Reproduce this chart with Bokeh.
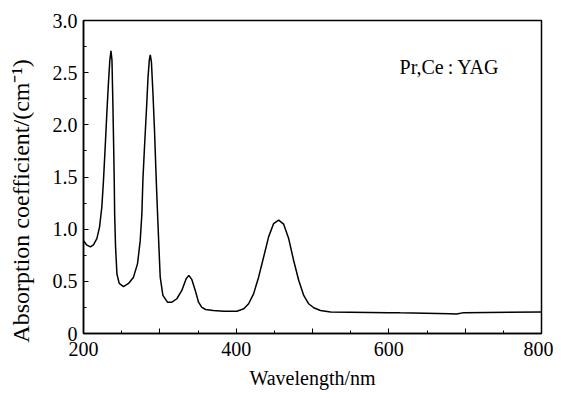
from bokeh.plotting import figure
from bokeh.models import FixedTicker, Label
from bokeh.embed import file_html
from bokeh.resources import INLINE

# Data
wavelength = [200, 204, 209, 213, 217.5, 221, 224, 226.2, 228.5, 230.5, 232.5, 234.5, 236,
              237.3, 238.5, 239.5, 240.3, 240.8, 242, 243.8, 246.8, 252.4, 259, 265.5, 270.8,
              274.3, 276.5, 277.8, 280, 282.5, 284.5, 286.2, 287.5, 289, 291, 293, 295.3, 297,
              298.8, 300.5, 304, 310, 315.8, 322.3, 328.8, 334.5, 338, 342, 346.4, 350.7, 355,
              360, 370, 384, 401, 410, 416.3, 422.8, 429.4, 436, 442.5, 449.1, 455.6, 462.2,
              468.8, 475.3, 481.9, 488.5, 495, 501.6, 510.4, 523.7, 600, 615, 680, 689, 698, 800]
absorption = [0.89, 0.85, 0.83, 0.85, 0.91, 1.02, 1.21, 1.47, 1.80, 2.10, 2.38, 2.62, 2.71,
              2.62, 2.20, 1.80, 1.45, 1.15, 0.83, 0.57, 0.48, 0.45, 0.48, 0.54, 0.67,
              0.89, 1.15, 1.47, 1.80, 2.15, 2.45, 2.62, 2.67, 2.60, 2.30, 1.95, 1.47, 1.15,
              0.83, 0.54, 0.365, 0.30, 0.30, 0.333, 0.413, 0.525, 0.557, 0.516, 0.413, 0.30, 0.25,
              0.23, 0.22, 0.214, 0.214, 0.237, 0.285, 0.38, 0.54, 0.733, 0.926, 1.054, 1.086, 1.048,
              0.91, 0.70, 0.51, 0.365, 0.285, 0.247, 0.22, 0.205, 0.20, 0.198, 0.19, 0.186, 0.20, 0.205]

x_major = [200, 300, 400, 500, 600, 700, 800]
x_minor = [250, 350, 450, 550, 650, 750]
x_labels = {200: "200", 300: "", 400: "400", 500: "", 600: "600", 700: "", 800: "800"}
y_major = [0, 0.5, 1.0, 1.5, 2.0, 2.5, 3.0]
y_minor = [0.25, 0.75, 1.25, 1.75, 2.25, 2.75]
y_labels = {0: "0", 0.5: "0.5", 1: "1.0", 1.5: "1.5", 2: "2.0", 2.5: "2.5", 3: "3.0"}

FONT = "Liberation Serif"

p = figure(width=553, height=396, x_range=(200, 800), y_range=(0, 3.0),
           output_backend="svg", toolbar_location=None,
           min_border_left=83, min_border_right=12, min_border_top=20, min_border_bottom=63)

p.line(wavelength, absorption, line_color="black", line_width=1.5)

p.grid.visible = False
p.outline_line_color = "black"
p.outline_line_width = 1.5
p.outline_line_alpha = 1.0

p.xaxis.ticker = FixedTicker(ticks=x_major, minor_ticks=x_minor)
p.xaxis.major_label_overrides = x_labels
p.yaxis.ticker = FixedTicker(ticks=y_major, minor_ticks=y_minor)
p.yaxis.major_label_overrides = y_labels

for ax in (p.xaxis[0], p.yaxis[0]):
    ax.axis_line_color = "black"
    ax.axis_line_width = 1.5
    ax.major_tick_in = 5
    ax.major_tick_out = 0
    ax.minor_tick_in = 3
    ax.minor_tick_out = 0
    ax.major_tick_line_color = "black"
    ax.minor_tick_line_color = "black"
    ax.major_label_text_font = FONT
    ax.major_label_text_font_size = "20px"
    ax.major_label_text_color = "black"
    ax.axis_label_text_font = FONT
    ax.axis_label_text_font_style = "normal"
    ax.axis_label_text_color = "black"

p.xaxis.axis_label = "Wavelength/nm"
p.xaxis.axis_label_text_font_size = "20px"
p.xaxis.major_label_standoff = 8
p.xaxis.axis_label_standoff = 8
p.yaxis.axis_label = "Absorption coefficient/(cm\u207b\u00b9)\u2003\u2003"
p.yaxis.axis_label_text_font_size = "24px"
p.yaxis.major_label_standoff = 6
p.yaxis.axis_label_standoff = 16

p.add_layout(Label(x=614, y=2.55, text="Pr,Ce\u2009:\u2009YAG", text_font=FONT,
                   text_font_size="20px", text_align="left", text_baseline="middle",
                   text_color="black"))

open("out.html", "w").write(file_html(p, INLINE))
